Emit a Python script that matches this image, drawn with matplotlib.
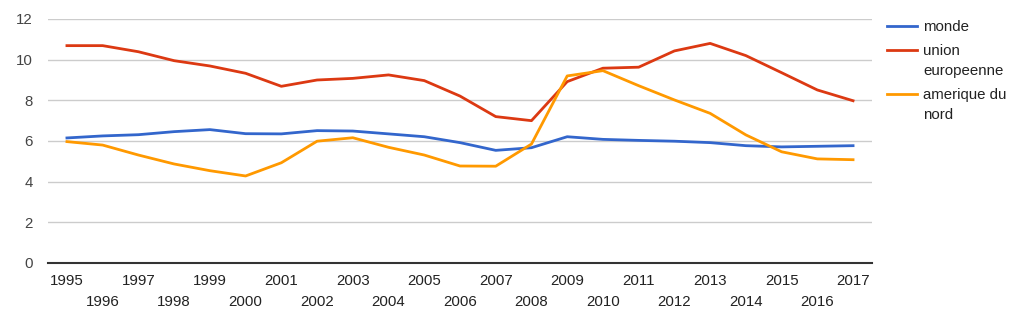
import matplotlib.pyplot as plt
from matplotlib.lines import Line2D

plt.rcParams['font.family'] = ['Liberation Sans', 'DejaVu Sans']

years = list(range(1995, 2018))
monde = [6.15, 6.25, 6.31, 6.46, 6.56, 6.36, 6.35, 6.51, 6.49, 6.35, 6.21, 5.92,
         5.54, 5.67, 6.21, 6.08, 6.03, 5.99, 5.92, 5.77, 5.71, 5.74, 5.77]
union_europeenne = [10.69, 10.69, 10.39, 9.95, 9.69, 9.33, 8.69, 9.0, 9.08, 9.25, 8.97, 8.21,
                    7.2, 7.0, 8.92, 9.58, 9.63, 10.43, 10.8, 10.2, 9.36, 8.51, 7.98]
amerique_du_nord = [5.97, 5.8, 5.31, 4.87, 4.54, 4.28, 4.93, 5.99, 6.16, 5.69, 5.31, 4.77,
                    4.76, 5.85, 9.2, 9.46, 8.72, 8.02, 7.36, 6.3, 5.47, 5.12, 5.08]

series = [
    ('monde', monde, '#3366cc'),
    ('union\neuropeenne', union_europeenne, '#dc3912'),
    ('amerique du\nnord', amerique_du_nord, '#ff9900'),
]

W, H = 1024, 322
fig = plt.figure(figsize=(W / 100, H / 100), dpi=100)
ax = fig.add_axes([48 / W, 59 / H, 824 / W, 244 / H])

for label, vals, color in series:
    ax.plot(years, vals, color=color, linewidth=2, solid_joinstyle='round')

ax.set_xlim(1994.47, 2017.53)
ax.set_ylim(0, 12)
ax.set_yticks(range(0, 13, 2))
ax.grid(axis='y', color='#cccccc', linewidth=1)
ax.set_axisbelow(True)
for s in ['top', 'right', 'left']:
    ax.spines[s].set_visible(False)
ax.spines['bottom'].set_color('#333333')
ax.spines['bottom'].set_linewidth(1.5)

ax.set_xticks(years[::2])
ax.set_xticks(years[1::2], minor=True)
ax.set_xticklabels([str(y) for y in years[::2]])
ax.set_xticklabels([str(y) for y in years[1::2]], minor=True)
ax.tick_params(axis='x', which='major', length=0, pad=8, labelsize=10.8, labelcolor='#222222')
ax.tick_params(axis='x', which='minor', length=0, pad=23, labelsize=10.8, labelcolor='#222222')
ax.tick_params(axis='y', length=0, pad=11, labelsize=10.8, labelcolor='#444444')

# legend, Google Charts style: handle aligned with the first line of the label
y_pix = [26, 50, 94]
for (label, vals, color), yp in zip(series, y_pix):
    fy = 1 - yp / H
    fig.add_artist(Line2D([887 / W, 917 / W], [fy, fy], color=color, linewidth=2,
                          transform=fig.transFigure))
    fig.text(923 / W, 1 - (yp - 6) / H, label, fontsize=10.8, color='#222222',
             va='top', linespacing=1.55, transform=fig.transFigure)

fig.savefig('out.png', dpi=100)
